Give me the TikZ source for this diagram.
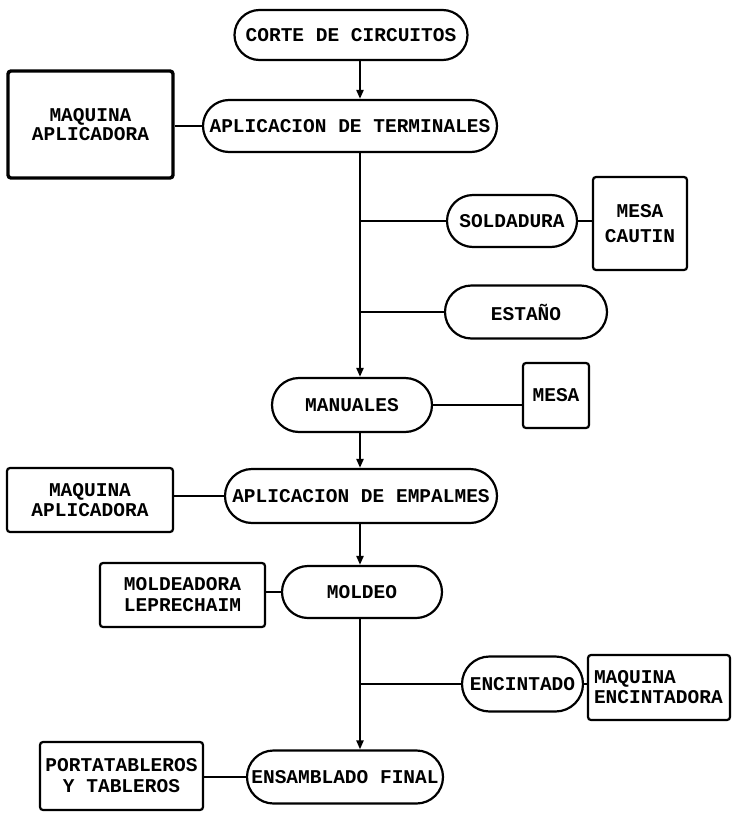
\documentclass[tikz,border=0pt]{standalone}
\usepackage{fontspec}
\setmainfont{Liberation Mono}
\usetikzlibrary{shapes.misc,arrows.meta}
\begin{document}
\begin{tikzpicture}[x=1pt,y=-1pt,
  every node/.style={font=\bfseries\fontsize{19.5}{20}\selectfont, inner sep=0pt, align=center},
  proc/.style={draw, rounded rectangle, line width=2.2pt},
  res/.style={draw, rectangle, rounded corners=3pt, line width=2.2pt},
  flow/.style={line width=2.2pt, -{Triangle[length=9pt,width=7pt]}},
  link/.style={line width=2.2pt}]
\useasboundingbox[fill=white] (0,0) rectangle (732,814);
% process nodes
\node[proc, minimum width=233pt, minimum height=50pt] (corte) at (351,35) {CORTE DE CIRCUITOS};
\node[proc, minimum width=294pt, minimum height=52pt] (term) at (350,126) {APLICACION DE TERMINALES};
\node[proc, minimum width=130pt, minimum height=52pt] (sold) at (512,221) {SOLDADURA};
\node[proc, minimum width=162pt, minimum height=53pt] (estano) at (526,312) {ESTAÑO};
\node[proc, minimum width=160pt, minimum height=54pt] (manu) at (352,405) {MANUALES};
\node[proc, minimum width=272pt, minimum height=54pt] (empal) at (361,496) {APLICACION DE EMPALMES};
\node[proc, minimum width=160pt, minimum height=52pt] (mold) at (362,592) {MOLDEO};
\node[proc, minimum width=121pt, minimum height=55pt] (encin) at (522.5,684) {ENCINTADO};
\node[proc, minimum width=196pt, minimum height=53pt] (ensam) at (345,777) {ENSAMBLADO FINAL};
% resource boxes
\node[res, line width=3.4pt, minimum width=165pt, minimum height=107pt, font=\bfseries\fontsize{19.5}{19}\selectfont] (maqa) at (90.5,124.5) {MAQUINA\\APLICADORA};
\node[res, minimum width=94pt, minimum height=93pt, font=\bfseries\fontsize{19.5}{25}\selectfont] (caut) at (640,223.5) {MESA\\CAUTIN};
\node[res, minimum width=66pt, minimum height=65pt] (mesa) at (556,395.5) {MESA};
\node[res, minimum width=166pt, minimum height=64pt] (maqb) at (90,500) {MAQUINA\\APLICADORA};
\node[res, minimum width=165pt, minimum height=64pt, font=\bfseries\fontsize{19.5}{21}\selectfont] (moldr) at (182.5,595) {MOLDEADORA\\LEPRECHAIM};
\node[res, minimum width=142pt, minimum height=65pt, align=left, font=\bfseries\fontsize{19.5}{20}\selectfont, text width=130pt] (maqenc) at (659,687.5) {MAQUINA\\ENCINTADORA};
\node[res, minimum width=163pt, minimum height=68pt, font=\bfseries\fontsize{19.5}{21}\selectfont] (porta) at (121.5,776) {PORTATABLEROS\\Y TABLEROS};
% spine
\coordinate (spine) at (360,0);
\coordinate (b1) at (360,221);
\coordinate (b2) at (360,312);
\coordinate (b3) at (360,684);
\draw[flow] (corte.south -| spine) -- (term.north -| spine);
\draw[flow] (term.south -| spine) -- (manu.north -| spine);
\draw[flow] (manu.south -| spine) -- (empal.north -| spine);
\draw[flow] (empal.south -| spine) -- (mold.north -| spine);
\draw[flow] (mold.south -| spine) -- (ensam.north -| spine);
% branches
\draw[link] (b1) -- (sold.west);
\draw[link] (b2) -- (estano.west);
\draw[link] (b3) -- (encin.west);
% resource links
\draw[link] (term.west) -- (term.west -| maqa.east);
\draw[link] (sold.east) -- (sold.east -| caut.west);
\draw[link] (manu.east) -- (manu.east -| mesa.west);
\draw[link] (empal.west) -- (empal.west -| maqb.east);
\draw[link] (mold.west) -- (mold.west -| moldr.east);
\draw[link] (encin.east) -- (encin.east -| maqenc.west);
\draw[link] (ensam.west) -- (ensam.west -| porta.east);
\end{tikzpicture}
\end{document}
